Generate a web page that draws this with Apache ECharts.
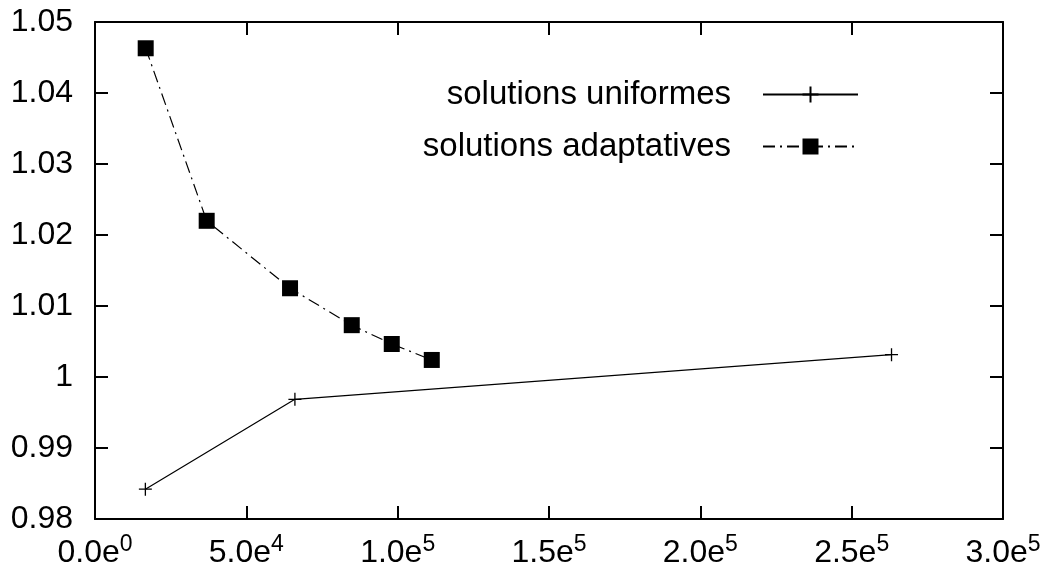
<!DOCTYPE html>
<html>
<head>
<meta charset="utf-8">
<script src="https://cdn.jsdelivr.net/npm/echarts@6/dist/echarts.min.js"></script>
<style>
  html, body { margin: 0; padding: 0; background: #fff; }
  #chart { width: 1053px; height: 575px; }
</style>
</head>
<body>
<div id="chart"></div>
<script>
// donnees
var uniformX = [16641, 66049, 263169];
var uniformY = [0.9842, 0.99686, 1.00314];
var adaptX = [16750, 36900, 64440, 84830, 98050, 111270];
var adaptY = [1.0463, 1.0220, 1.0125, 1.0073, 1.00465, 1.0024];
var seriesNames = ['solutions uniformes', 'solutions adaptatives'];

function pairs(xs, ys) {
    var out = [];
    for (var i = 0; i < xs.length; i++) out.push([xs[i], ys[i]]);
    return out;
}

// 5.0e4 style, with superscript exponent
function sciLabel(v) {
    var exp = v === 0 ? 0 : Math.floor(Math.log10(v) + 1e-9);
    var mant = (v / Math.pow(10, exp)).toFixed(1);
    return '{b|' + mant + 'e}{s|' + exp + '}';
}

var font = 'Liberation Sans, Arial, Helvetica, sans-serif';
var plus = 'path://M0,-6 L0,6 M-6,0 L6,0';

(function () {
    var myChart = echarts.init(document.getElementById('chart'));

    var xBase = {
        type: 'value',
        min: 0,
        max: 300000,
        interval: 50000,
        axisLine: { show: true, onZero: false, lineStyle: { color: '#000', width: 2 } },
        axisTick: { show: true, inside: true, length: 13, lineStyle: { color: '#000', width: 2 } },
        splitLine: { show: false }
    };
    var yBase = {
        type: 'value',
        min: 0.98,
        max: 1.05,
        interval: 0.01,
        axisLine: { show: true, onZero: false, lineStyle: { color: '#000', width: 2 } },
        axisTick: { show: true, inside: true, length: 13, lineStyle: { color: '#000', width: 2 } },
        splitLine: { show: false }
    };

    var option = {
        animation: false,
        backgroundColor: '#fff',
        grid: {
            left: 95,
            right: 50,
            top: 22,
            bottom: 56
        },
        legend: {
            orient: 'vertical',
            right: 189,
            top: 73,
            align: 'right',
            itemWidth: 95,
            itemHeight: 20,
            itemGap: 19,
            textStyle: {
                fontFamily: font,
                fontSize: 33,
                color: '#000',
                padding: [0, 27, 0, 0]
            },
            data: seriesNames
        },
        xAxis: [
            Object.assign({}, xBase, {
                position: 'bottom',
                axisLabel: {
                    margin: 14,
                    color: '#000',
                    formatter: sciLabel,
                    rich: {
                        b: { fontFamily: font, fontSize: 32, color: '#000', lineHeight: 36, verticalAlign: 'bottom' },
                        s: { fontFamily: font, fontSize: 23, color: '#000', lineHeight: 36, verticalAlign: 'top' }
                    }
                }
            }),
            Object.assign({}, xBase, {
                position: 'top',
                axisLabel: { show: false }
            })
        ],
        yAxis: [
            Object.assign({}, yBase, {
                position: 'left',
                axisLabel: {
                    margin: 22,
                    color: '#000',
                    fontFamily: font,
                    fontSize: 32,
                    formatter: function (v) { return String(parseFloat(v.toFixed(2))); }
                }
            }),
            Object.assign({}, yBase, {
                position: 'right',
                axisLabel: { show: false }
            })
        ],
        series: [
            {
                name: seriesNames[0],
                type: 'line',
                data: pairs(uniformX, uniformY),
                symbol: plus,
                symbolSize: 13,
                showAllSymbol: true,
                lineStyle: { color: '#000', width: 1.2, type: 'solid' },
                itemStyle: { color: '#000', borderColor: '#000', borderWidth: 1.3 }
            },
            {
                name: seriesNames[1],
                type: 'line',
                data: pairs(adaptX, adaptY),
                symbol: 'rect',
                symbolSize: 16,
                showAllSymbol: true,
                lineStyle: { color: '#000', width: 1.2, type: [12, 5, 2, 5] },
                itemStyle: { color: '#000' }
            }
        ]
    };

    myChart.setOption(option);
})();
</script>
</body>
</html>
